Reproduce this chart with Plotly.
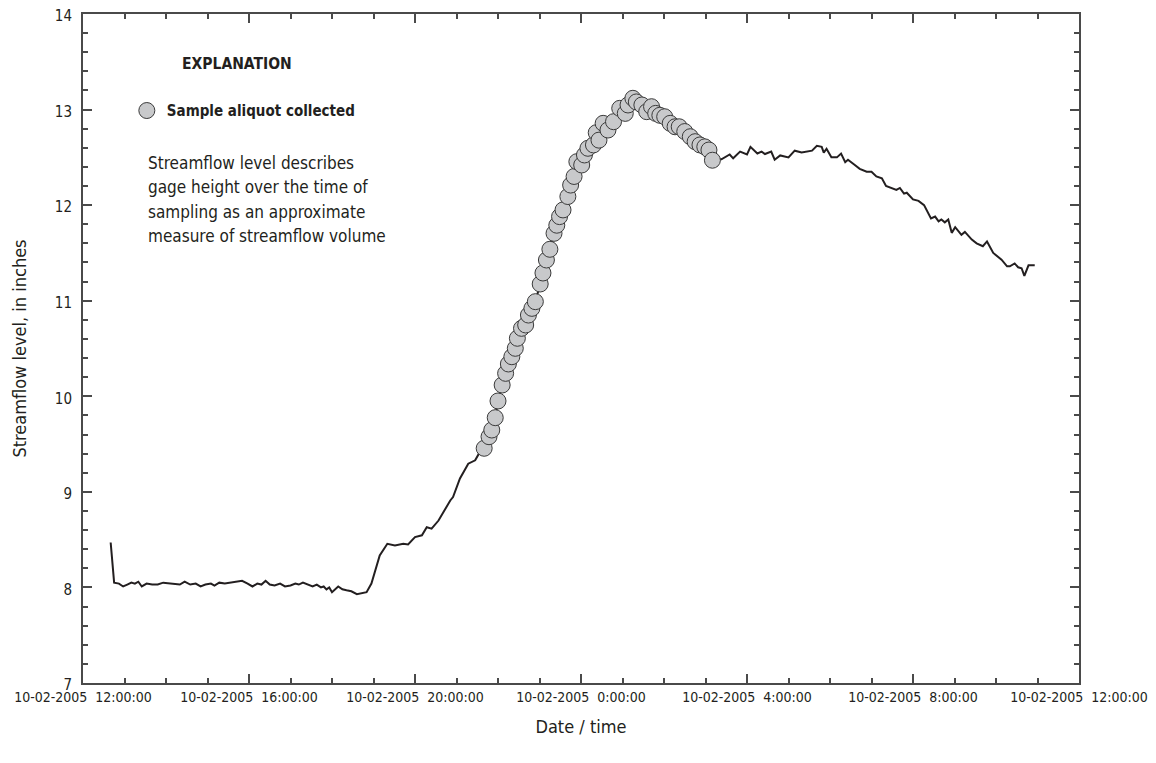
import plotly.graph_objects as go

# ---------------- data ----------------
pre_times = [
    "2005-10-02 12:40", "2005-10-02 12:45", "2005-10-02 12:52", "2005-10-02 12:58", "2005-10-02 13:04",
    "2005-10-02 13:10", "2005-10-02 13:15", "2005-10-02 13:20", "2005-10-02 13:25", "2005-10-02 13:32",
    "2005-10-02 13:40", "2005-10-02 13:48", "2005-10-02 13:56", "2005-10-02 14:05", "2005-10-02 14:12",
    "2005-10-02 14:20", "2005-10-02 14:27", "2005-10-02 14:35", "2005-10-02 14:43", "2005-10-02 14:50",
    "2005-10-02 14:57", "2005-10-02 15:05", "2005-10-02 15:10", "2005-10-02 15:17", "2005-10-02 15:25",
    "2005-10-02 15:33", "2005-10-02 15:42", "2005-10-02 15:50", "2005-10-02 15:58", "2005-10-02 16:05",
    "2005-10-02 16:12", "2005-10-02 16:18", "2005-10-02 16:24", "2005-10-02 16:30", "2005-10-02 16:37",
    "2005-10-02 16:45", "2005-10-02 16:52", "2005-10-02 17:00", "2005-10-02 17:07", "2005-10-02 17:12",
    "2005-10-02 17:18", "2005-10-02 17:25", "2005-10-02 17:32", "2005-10-02 17:38", "2005-10-02 17:44",
    "2005-10-02 17:48", "2005-10-02 17:52", "2005-10-02 17:56", "2005-10-02 18:00", "2005-10-02 18:09",
    "2005-10-02 18:15", "2005-10-02 18:21", "2005-10-02 18:28", "2005-10-02 18:36", "2005-10-02 18:44",
    "2005-10-02 18:50", "2005-10-02 18:57", "2005-10-02 19:03", "2005-10-02 19:09", "2005-10-02 19:20",
    "2005-10-02 19:31", "2005-10-02 19:43", "2005-10-02 19:50", "2005-10-02 20:00", "2005-10-02 20:10",
    "2005-10-02 20:17", "2005-10-02 20:24", "2005-10-02 20:34", "2005-10-02 20:41", "2005-10-02 20:51",
    "2005-10-02 20:55", "2005-10-02 21:05", "2005-10-02 21:17", "2005-10-02 21:27", "2005-10-02 21:34",
]
pre_levels = [
    8.47, 8.05, 8.04, 8.01, 8.03,
    8.05, 8.04, 8.06, 8.01, 8.04,
    8.03, 8.03, 8.05, 8.04, 8.04,
    8.03, 8.06, 8.03, 8.04, 8.01,
    8.03, 8.04, 8.02, 8.05, 8.04,
    8.05, 8.06, 8.07, 8.04, 8.01,
    8.04, 8.03, 8.07, 8.03, 8.02,
    8.04, 8.01, 8.02, 8.04, 8.03,
    8.05, 8.03, 8.01, 8.03, 8.00,
    8.01, 7.98, 8.00, 7.95, 8.01,
    7.98, 7.97, 7.96, 7.93, 7.94,
    7.95, 8.04, 8.18, 8.335, 8.457,
    8.44, 8.457, 8.45, 8.527, 8.545,
    8.63, 8.615, 8.70, 8.79, 8.91,
    8.946, 9.14, 9.295, 9.33, 9.42,
]

sample_times = [
    "2005-10-02 21:40", "2005-10-02 21:47", "2005-10-02 21:51", "2005-10-02 21:56", "2005-10-02 22:00",
    "2005-10-02 22:06", "2005-10-02 22:11", "2005-10-02 22:15", "2005-10-02 22:20", "2005-10-02 22:25",
    "2005-10-02 22:28", "2005-10-02 22:34", "2005-10-02 22:40", "2005-10-02 22:44", "2005-10-02 22:49",
    "2005-10-02 22:54", "2005-10-02 23:01", "2005-10-02 23:05", "2005-10-02 23:10", "2005-10-02 23:15",
    "2005-10-02 23:21", "2005-10-02 23:25", "2005-10-02 23:29", "2005-10-02 23:34", "2005-10-02 23:41",
    "2005-10-02 23:45", "2005-10-02 23:50", "2005-10-02 23:54", "2005-10-03 00:01", "2005-10-03 00:05",
    "2005-10-03 00:10", "2005-10-03 00:18", "2005-10-03 00:22", "2005-10-03 00:26", "2005-10-03 00:32",
    "2005-10-03 00:39", "2005-10-03 00:47", "2005-10-03 00:56", "2005-10-03 01:04", "2005-10-03 01:08",
    "2005-10-03 01:15", "2005-10-03 01:20", "2005-10-03 01:28", "2005-10-03 01:35", "2005-10-03 01:42",
    "2005-10-03 01:48", "2005-10-03 01:54", "2005-10-03 02:01", "2005-10-03 02:09", "2005-10-03 02:16",
    "2005-10-03 02:22", "2005-10-03 02:30", "2005-10-03 02:38", "2005-10-03 02:45", "2005-10-03 02:52",
    "2005-10-03 02:59", "2005-10-03 03:05", "2005-10-03 03:10",
]
sample_levels = [
    9.456, 9.577, 9.647, 9.776, 9.951,
    10.118, 10.24, 10.338, 10.414, 10.502,
    10.607, 10.711, 10.746, 10.85, 10.92,
    10.99, 11.175, 11.29, 11.426, 11.538,
    11.705, 11.79, 11.88, 11.95, 12.09,
    12.21, 12.30, 12.455, 12.42, 12.525,
    12.595, 12.63, 12.758, 12.68, 12.856,
    12.786, 12.873, 13.013, 12.96, 13.048,
    13.118, 13.08, 13.048, 12.978, 13.03,
    12.96, 12.94, 12.925, 12.856, 12.82,
    12.82, 12.77, 12.716, 12.664, 12.63,
    12.61, 12.577, 12.47,
]

post_times = [
    "2005-10-03 03:23", "2005-10-03 03:35", "2005-10-03 03:40", "2005-10-03 03:50", "2005-10-03 04:00",
    "2005-10-03 04:05", "2005-10-03 04:15", "2005-10-03 04:21", "2005-10-03 04:26", "2005-10-03 04:35",
    "2005-10-03 04:40", "2005-10-03 04:48", "2005-10-03 05:00", "2005-10-03 05:09", "2005-10-03 05:19",
    "2005-10-03 05:34", "2005-10-03 05:41", "2005-10-03 05:48", "2005-10-03 05:51", "2005-10-03 05:55",
    "2005-10-03 06:02", "2005-10-03 06:10", "2005-10-03 06:16", "2005-10-03 06:22", "2005-10-03 06:26",
    "2005-10-03 06:34", "2005-10-03 06:43", "2005-10-03 06:53", "2005-10-03 07:00", "2005-10-03 07:07",
    "2005-10-03 07:15", "2005-10-03 07:21", "2005-10-03 07:29", "2005-10-03 07:36", "2005-10-03 07:41",
    "2005-10-03 07:47", "2005-10-03 07:51", "2005-10-03 08:00", "2005-10-03 08:08", "2005-10-03 08:16",
    "2005-10-03 08:26", "2005-10-03 08:32", "2005-10-03 08:37", "2005-10-03 08:41", "2005-10-03 08:46",
    "2005-10-03 08:51", "2005-10-03 08:56", "2005-10-03 09:01", "2005-10-03 09:10", "2005-10-03 09:15",
    "2005-10-03 09:25", "2005-10-03 09:32", "2005-10-03 09:41", "2005-10-03 09:47", "2005-10-03 09:56",
    "2005-10-03 10:08", "2005-10-03 10:16", "2005-10-03 10:20", "2005-10-03 10:27", "2005-10-03 10:32",
    "2005-10-03 10:37", "2005-10-03 10:41", "2005-10-03 10:47", "2005-10-03 10:56",
]
post_levels = [
    12.48, 12.53, 12.49, 12.56, 12.53,
    12.61, 12.54, 12.56, 12.535, 12.56,
    12.475, 12.52, 12.50, 12.57, 12.55,
    12.57, 12.62, 12.61, 12.55, 12.59,
    12.50, 12.50, 12.54, 12.45, 12.475,
    12.43, 12.38, 12.35, 12.35, 12.30,
    12.28, 12.20, 12.18, 12.16, 12.18,
    12.12, 12.13, 12.06, 12.045, 12.00,
    11.86, 11.88, 11.83, 11.85, 11.82,
    11.85, 11.71, 11.77, 11.69, 11.72,
    11.64, 11.60, 11.57, 11.62, 11.50,
    11.43, 11.36, 11.36, 11.39, 11.35,
    11.34, 11.26, 11.37, 11.37,
]

tick_vals = [
    "2005-10-02 12:00", "2005-10-02 16:00", "2005-10-02 20:00", "2005-10-03 00:00",
    "2005-10-03 04:00", "2005-10-03 08:00", "2005-10-03 12:00",
]
tick_text = [
    "10-02-2005  12:00:00", "10-02-2005  16:00:00", "10-02-2005  20:00:00", "10-02-2005  0:00:00",
    "10-02-2005  4:00:00", "10-02-2005  8:00:00", "10-02-2005  12:00:00",
]

note_lines = [
    "Streamflow level describes",
    "gage height over the time of",
    "sampling as an approximate",
    "measure of streamflow volume",
]

line_times = pre_times + sample_times + post_times
line_levels = pre_levels + sample_levels + post_levels

FONT = "Liberation Sans Narrow, Arial Narrow, DejaVu Sans Condensed, sans-serif"
AXC = "#4a4a4a"

# page body has an 8px offset; figure sized so plot area sits at x 83..1079, y 14..683
W, H = 1148, 755
L, T = 75, 6
PW, PH = 996, 669

fig = go.Figure()
fig.add_trace(go.Scatter(
    x=line_times, y=line_levels, mode="lines",
    line=dict(color="#231f20", width=2), showlegend=False, hoverinfo="skip",
))
fig.add_trace(go.Scatter(
    x=sample_times, y=sample_levels, mode="markers",
    name="<b>Sample aliquot collected</b>",
    marker=dict(size=16, color="#c8c9cb", line=dict(color="#3a3a3a", width=1)),
))

def py(screen_y):
    return (683 - screen_y) / PH

def px(screen_x):
    return (screen_x - 83) / PW

annotations = [
    dict(text="<b>EXPLANATION</b>", xref="paper", yref="paper",
         x=px(237), y=py(64), xanchor="center", yanchor="middle",
         showarrow=False, font=dict(size=15.5)),
]
for i, t in enumerate(note_lines):
    annotations.append(dict(
        text=t, xref="paper", yref="paper", x=px(146), y=py(163 + 24.3 * i),
        xanchor="left", yanchor="middle", align="left", showarrow=False,
        font=dict(size=17)))

fig.update_layout(
    width=W, height=H,
    margin=dict(l=L, r=W - L - PW, t=T, b=H - T - PH, autoexpand=False),
    paper_bgcolor="white", plot_bgcolor="white",
    font=dict(family=FONT, size=16, color="#231f20"),
    legend=dict(x=0.044, y=0.88, xanchor="left", yanchor="top",
                font=dict(size=15, family=FONT), bgcolor="rgba(0,0,0,0)"),
    xaxis=dict(
        type="date", range=["2005-10-02 12:00", "2005-10-03 12:00"],
        tickmode="array", tickvals=tick_vals, ticktext=tick_text,
        ticks="inside", ticklen=9, tickwidth=2, tickcolor=AXC,
        minor=dict(dtick=3600000, tick0="2005-10-02 12:00", ticks="inside",
                   ticklen=5, tickwidth=2, tickcolor=AXC),
        showline=True, linecolor=AXC, linewidth=2, mirror="allticks",
        showgrid=False, zeroline=False, automargin=False,
        ticklabeloverflow="allow",
        tickfont=dict(size=14),
        title=dict(text="Date / time", font=dict(size=18), standoff=17),
    ),
    yaxis=dict(
        range=[7, 14], dtick=1, tick0=7,
        ticks="inside", ticklen=9, tickwidth=2, tickcolor=AXC,
        minor=dict(dtick=0.2, ticks="inside", ticklen=5, tickwidth=2, tickcolor=AXC),
        showline=True, linecolor=AXC, linewidth=2, mirror="allticks",
        showgrid=False, zeroline=False, automargin=False,
        ticklabelstandoff=6, ticklabelshift=2, ticklabeloverflow="allow",
        tickfont=dict(size=15),
        title=dict(text="Streamflow level, in inches", font=dict(size=18), standoff=24),
    ),
    annotations=annotations,
)

fig.write_html("out.html")
